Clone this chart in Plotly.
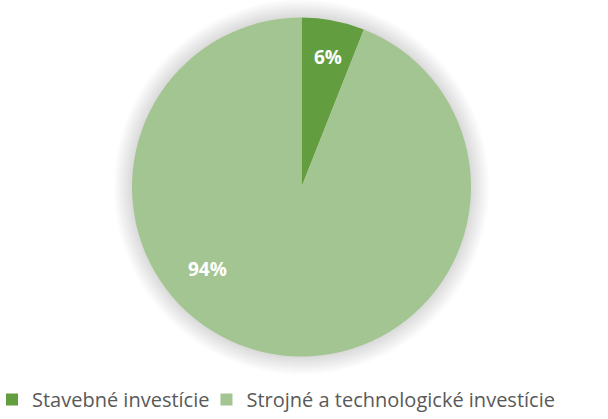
import plotly.graph_objects as go

labels = ["Stavebné investície", "Strojné a technologické investície"]
values = [6, 94]
colors = ["#629e3f", "#a3c591"]
# label anchor positions (pixels in the 608x419 canvas), as placed in the original
label_px = [(328, 42), (207, 284)]

W, H = 608, 419
# pie bounding box in pixels
PX0, PX1, PY0, PY1 = 132, 471, 17, 357

def fx(px):
    return px / W

def fy(py):
    return 1 - py / H

fig = go.Figure(go.Pie(
    labels=labels,
    values=values,
    sort=False,
    direction="clockwise",
    rotation=0,
    domain=dict(x=[fx(PX0), fx(PX1)], y=[fy(PY1), fy(PY0)]),
    marker=dict(colors=colors, line=dict(color="#ffffff", width=0)),
    textinfo="none",
    hoverinfo="label+percent",
))

# soft shadow around the pie
cx, cy, r = (PX0 + PX1) / 2, (PY0 + PY1) / 2, (PY1 - PY0) / 2
for extra in range(18, 0, -1):
    R = r + extra
    fig.add_shape(
        type="circle", xref="paper", yref="paper",
        x0=fx(cx - R), x1=fx(cx + R), y0=fy(cy + R), y1=fy(cy - R),
        fillcolor="rgba(0,0,0,0.007)", line=dict(width=0), layer="below",
    )

total = sum(values)
for v, (px, py) in zip(values, label_px):
    fig.add_annotation(
        x=fx(px), y=fy(py),
        xref="paper", yref="paper",
        text=f"{round(100 * v / total)}%",
        showarrow=False,
        font=dict(family="Open Sans, sans-serif", size=19, color="#ffffff", weight="bold"),
    )

fig.update_layout(
    width=W,
    height=H,
    margin=dict(l=0, r=0, t=0, b=0, autoexpand=False),
    paper_bgcolor="#ffffff",
    plot_bgcolor="#ffffff",
    showlegend=True,
    legend=dict(
        orientation="h",
        x=0,
        xanchor="left",
        y=0,
        yanchor="bottom",
        indentation=-8,
        font=dict(family="Open Sans, sans-serif", size=20, color="#595959"),
        itemwidth=30,
        traceorder="normal",
        bgcolor="rgba(0,0,0,0)",
    ),
)

fig.write_html(
    "out.html",
    config={"displayModeBar": False},
    post_script="document.body.style.margin='0';document.body.style.overflow='hidden';",
)
